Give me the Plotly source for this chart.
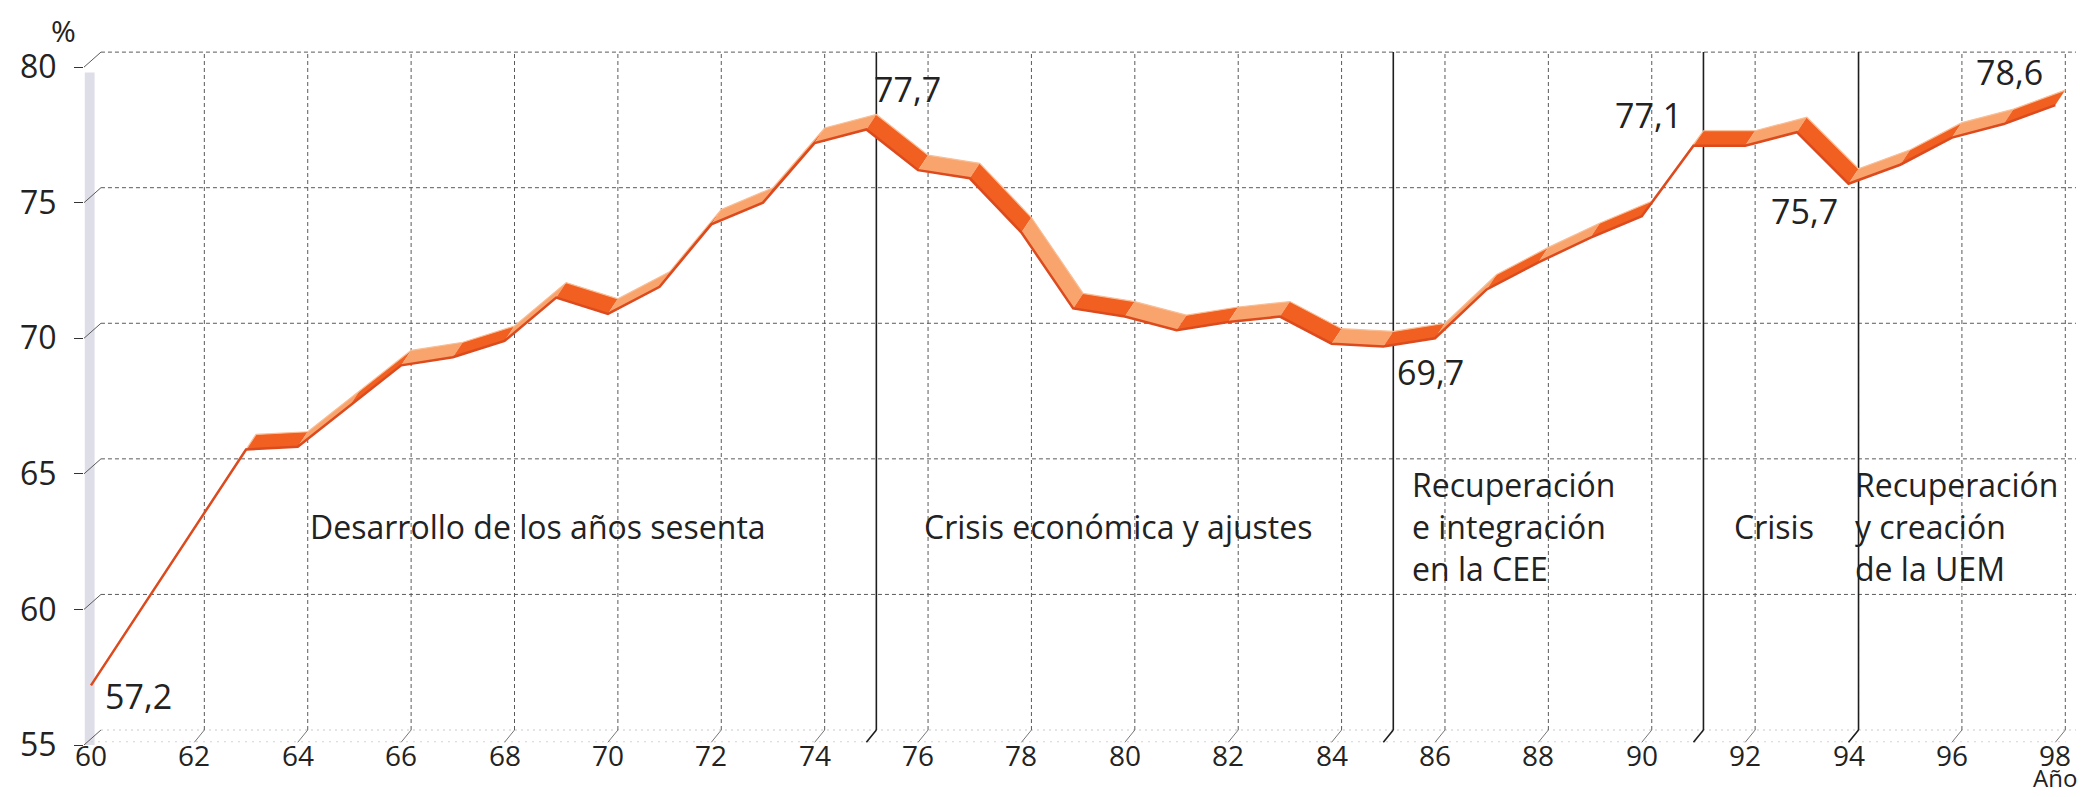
import plotly.graph_objects as go

# Tasa de actividad / ocupación (%), 1960-1998
years = list(range(1960, 1999))
rate = [57.2, 60.1, 63.0, 65.9, 66.0, 67.5, 69.0, 69.3, 69.9, 71.5,
        70.9, 71.9, 74.2, 75.0, 77.2, 77.7, 76.2, 75.9, 73.9, 71.1,
        70.8, 70.3, 70.6, 70.8, 69.8, 69.7, 70.0, 71.8, 72.8, 73.7,
        74.5, 77.1, 77.1, 77.6, 75.7, 76.4, 77.4, 77.9, 78.6]

tick_years = list(range(1960, 1999, 2))
tick_text = [str(y)[2:] for y in tick_years]
y_ticks = [55, 60, 65, 70, 75, 80]

period_breaks = [1975, 1985, 1991, 1994]
point_labels = ["57,2", "77,7", "69,7", "77,1", "75,7", "78,6"]
period_names = [
    ["Desarrollo de los años sesenta"],
    ["Crisis económica y ajustes"],
    ["Recuperación", "e integración", "en la CEE"],
    ["Crisis"],
    ["Recuperación", "y creación", "de la UEM"],
]

FONT = "Open Sans"
DX = 0.193   # depth of the 3D box (years)
DY = 0.553   # depth of the 3D box (%)
X0, X1 = 1959.865, 1998.4
DARK = "#f15f21"
LIGHT = "#f8a46c"
GRID = "#5a5a5a"

fig = go.Figure()

# ribbon faces
for i in range(len(years) - 1):
    xa, xb = years[i], years[i + 1]
    ya, yb = rate[i], rate[i + 1]
    fig.add_trace(go.Scatter(
        x=[xa, xb, xb + DX, xa + DX, xa],
        y=[ya, yb, yb + DY, ya + DY, ya],
        mode="lines", fill="toself",
        fillcolor=DARK if years[i] % 2 else LIGHT,
        line=dict(width=0), hoverinfo="skip", showlegend=False))

# back and front edges
fig.add_trace(go.Scatter(x=[x + DX for x in years], y=[v + DY for v in rate],
                         mode="lines", line=dict(color="#f9be95", width=1.2),
                         hoverinfo="skip", showlegend=False))
fig.add_trace(go.Scatter(x=years, y=rate, mode="lines",
                         line=dict(color="#dc4a1e", width=2.5),
                         hoverinfo="skip", showlegend=False))

shapes = []
# left wall
shapes.append(dict(type="rect", xref="x", yref="y", x0=1959.88, x1=1960.07,
                   y0=55, y1=79.8, fillcolor="#dedee8", line=dict(width=0),
                   layer="below"))
# horizontal gridlines on the back wall + connectors to the ticks
for v in y_ticks:
    if v == 55:
        style = dict(color="#c8c8c8", width=1.2, dash="2px,4px")
    else:
        style = dict(color=GRID, width=1, dash="4px,3px")
    shapes.append(dict(type="line", xref="x", yref="y", x0=1960 + DX, x1=X1,
                       y0=v + DY, y1=v + DY, line=style, layer="below"))
    shapes.append(dict(type="line", xref="x", yref="y", x0=X0, x1=1960 + DX,
                       y0=v, y1=v + DY, line=dict(color=GRID, width=1),
                       layer="below"))
# floor front edge
shapes.append(dict(type="line", xref="x", yref="y", x0=1960, x1=1998.2,
                   y0=55.12, y1=55.12, line=dict(color="#d4d4d4", width=1.2,
                                                 dash="2px,5px"),
                   layer="below"))
# vertical gridlines
for yr in tick_years[1:]:
    shapes.append(dict(type="line", xref="x", yref="y", x0=yr + DX, x1=yr + DX,
                       y0=55 + DY, y1=80 + DY,
                       line=dict(color=GRID, width=1, dash="4px,3px"),
                       layer="below"))
    shapes.append(dict(type="line", xref="x", yref="y", x0=yr, x1=yr + DX,
                       y0=55.1, y1=55 + DY, line=dict(color="#777", width=1),
                       layer="below"))
# period dividers
for yr in period_breaks:
    shapes.append(dict(type="line", xref="x", yref="y", x0=yr + DX, x1=yr + DX,
                       y0=55 + DY, y1=80 + DY,
                       line=dict(color="#1e1e1e", width=1.6), layer="below"))
    shapes.append(dict(type="line", xref="x", yref="y", x0=yr, x1=yr + DX,
                       y0=55.1, y1=55 + DY,
                       line=dict(color="#1e1e1e", width=1.6), layer="below"))

annotations = []
# x tick labels (as annotations so they can sit close under the floor)
for yr, t in zip(tick_years, tick_text):
    annotations.append(dict(text=t, xref="x", yref="paper", x=yr, y=0.016,
                            showarrow=False, yanchor="top",
                            font=dict(family=FONT, size=28, color="#222")))

txt = dict(family=FONT, size=34, color="#222")
label_pos = [
    dict(x=1960.23, y=56.8, xanchor="left"),
    dict(x=1975.1, y=79.2, xanchor="left"),
    dict(x=1985.22, y=68.75, xanchor="left"),
    dict(x=1990.82, y=78.25, xanchor="right"),
    dict(x=1993.15, y=74.7, xanchor="center"),
    dict(x=1997.8, y=79.83, xanchor="right"),
]
for t, p in zip(point_labels, label_pos):
    annotations.append(dict(text=t, xref="x", yref="y", showarrow=False,
                            yanchor="middle", font=txt, **p))

name_pos = [
    dict(x=1964.19, xanchor="left"),
    dict(x=1976.07, xanchor="left"),
    dict(x=1985.52, xanchor="left"),
    dict(x=1992.55, xanchor="center"),
    dict(x=1994.09, xanchor="left"),
]
for lines, p in zip(period_names, name_pos):
    n = len(lines)
    for k, line in enumerate(lines):
        annotations.append(dict(text=line, xref="x", yref="y", y=63.05,
                                yshift=(n - 1) / 2 * 42 - k * 42,
                                showarrow=False, yanchor="middle",
                                font=dict(family=FONT, size=32, color="#222"),
                                **p))

annotations.append(dict(text="%", xref="paper", yref="paper", x=-0.0175,
                        y=1.0128, showarrow=False, yanchor="middle",
                        font=dict(family=FONT, size=30, color="#222")))
annotations.append(dict(text="Año", xref="x", yref="paper", x=1998.0,
                        y=-0.073, showarrow=False, yanchor="bottom",
                        font=dict(family=FONT, size=24, color="#222")))

fig.update_layout(
    width=2092, height=797,
    margin=dict(l=72, r=24, t=32, b=60),
    plot_bgcolor="white", paper_bgcolor="white",
    shapes=shapes, annotations=annotations,
    showlegend=False,
    xaxis=dict(range=[X0, X1], showticklabels=False,
               showgrid=False, zeroline=False, showline=False, ticks=""),
    yaxis=dict(range=[55, 81], tickvals=y_ticks, showgrid=False,
               zeroline=False, showline=False, ticks="outside", ticklen=9,
               tickcolor="#333", ticklabelstandoff=11,
               tickfont=dict(family=FONT, size=32, color="#222")),
)

fig.write_html("out.html")
